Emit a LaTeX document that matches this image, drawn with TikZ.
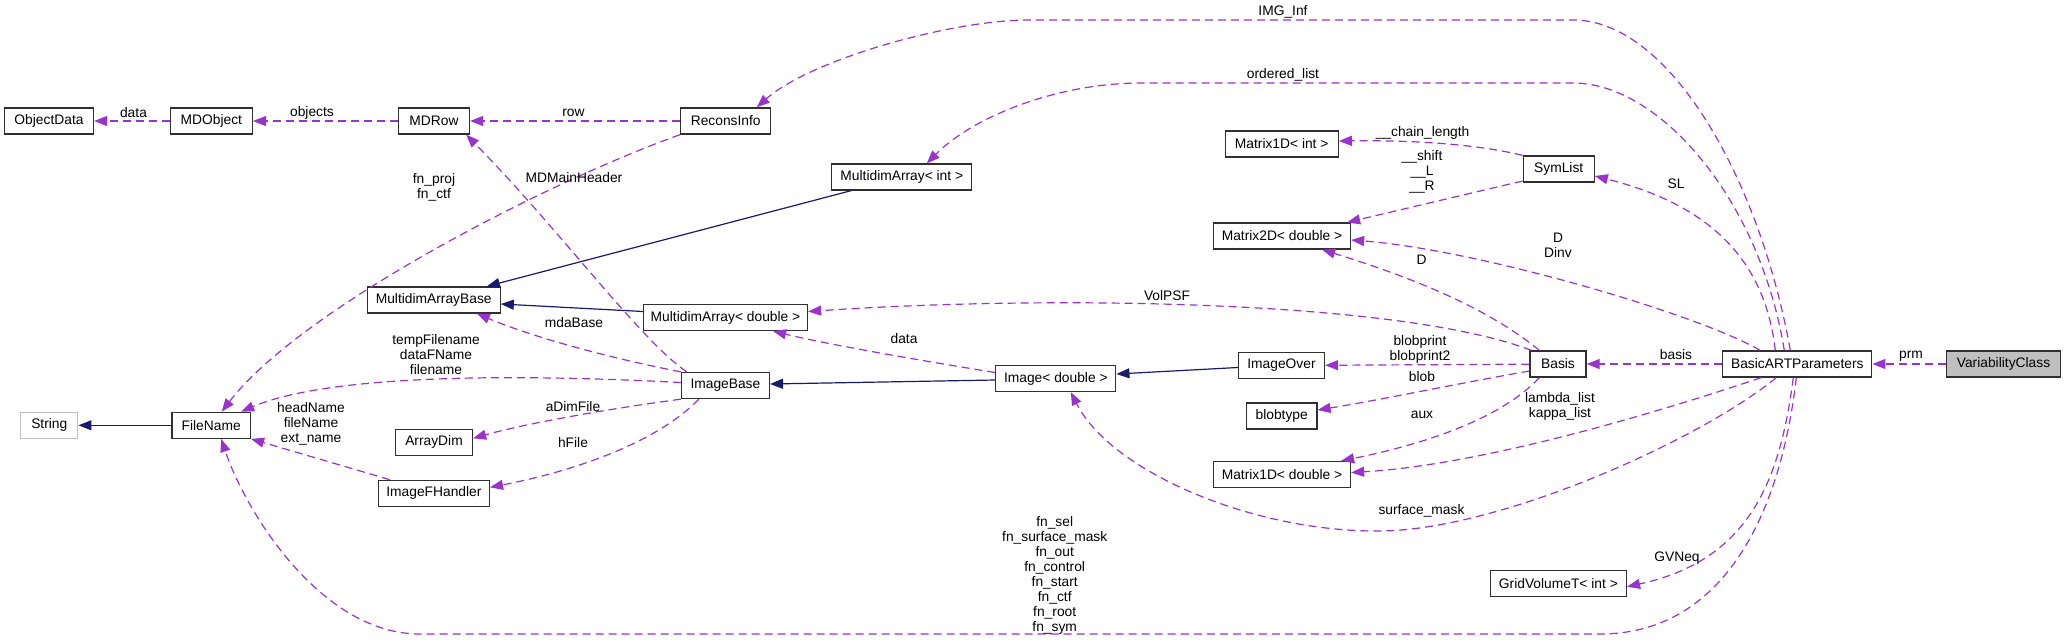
\documentclass[tikz,border=0pt]{standalone}
\usepackage{fontspec}
\setmainfont{Liberation Sans}
\usetikzlibrary{arrows.meta}
\definecolor{memc}{HTML}{9A32CD}
\definecolor{inhc}{HTML}{191970}
\definecolor{grayc}{HTML}{BFBFBF}
\definecolor{boxc}{HTML}{303030}
\tikzset{
  cls/.style={draw=boxc, line width=1.3pt, fill=white, minimum height=26pt, inner sep=0pt,
    font=\fontsize{13.8}{15}\selectfont},
  lbl/.style={font=\fontsize{13.8}{15}\selectfont, align=center, inner sep=0pt},
  memb/.style={draw=memc, line width=1.2pt, dash pattern=on 8pt off 5pt,
    -{Triangle[length=13pt,width=10pt]}},
  inher/.style={draw=inhc, line width=1.2pt, -{Triangle[length=13pt,width=10pt]}},
}
\begin{document}
\begin{tikzpicture}[x=1pt,y=-1pt]
\useasboundingbox (0,0) rectangle (2065,640);
% classes
\node[cls, minimum width=89pt] (objdata) at (49,121) {ObjectData};
\node[cls, minimum width=82pt] (mdobj) at (211.4,121) {MDObject};
\node[cls, minimum width=71pt] (mdrow) at (434,121) {MDRow};
\node[cls, minimum width=90pt] (recons) at (725.7,121) {ReconsInfo};
\node[cls, minimum width=140pt] (mdaint) at (901.8,177) {MultidimArray< int >};
\node[cls, minimum width=113pt] (m1dint) at (1281.7,144) {Matrix1D< int >};
\node[cls, minimum width=71pt] (symlist) at (1558.7,169) {SymList};
\node[cls, minimum width=137pt] (m2d) at (1282,236) {Matrix2D< double >};
\node[cls, minimum width=133pt] (mdabase) at (433.7,300) {MultidimArrayBase};
\node[cls, minimum width=164pt] (mdadbl) at (725.5,317.5) {MultidimArray< double >};
\node[cls, minimum width=57pt, draw=grayc] (string) at (49.3,425.3) {String};
\node[cls, minimum width=78.5pt] (filename) at (211.2,425.3) {FileName};
\node[cls, minimum width=77pt] (arraydim) at (434,442.3) {ArrayDim};
\node[cls, minimum width=111pt] (imgfh) at (433.9,493.3) {ImageFHandler};
\node[cls, minimum width=88pt] (imgbase) at (725.4,385.5) {ImageBase};
\node[cls, minimum width=120pt] (imgdbl) at (1055.8,378.5) {Image< double >};
\node[cls, minimum width=86pt] (imgover) at (1281.5,365.5) {ImageOver};
\node[cls, minimum width=70.5pt] (blobtype) at (1281.7,416) {blobtype};
\node[cls, minimum width=137pt] (m1ddbl) at (1282,474.5) {Matrix1D< double >};
\node[cls, minimum width=136pt] (gridvol) at (1558.4,583.7) {GridVolumeT< int >};
\node[cls, minimum width=56pt] (basis) at (1558,364) {Basis};
\node[cls, minimum width=149pt] (bap) at (1797.3,364) {BasicARTParameters};
\node[cls, minimum width=114pt, fill=grayc] (varclass) at (2003.5,364) {VariabilityClass};
% connectors
\draw[memb] (mdobj) -- (objdata);
\draw[memb] (mdrow) -- (mdobj);
\draw[memb] (recons) -- (mdrow);
\draw[memb] (recons.south west) .. controls (540,185) and (300,310) .. (filename);
\draw[memb] ([xshift=6pt]imgbase.north west) .. controls (640,340) and (560,230) .. ([xshift=-4pt]mdrow.south east);
\draw[inher] ([xshift=20pt]mdaint.south west) -- ([xshift=-14pt]mdabase.north east);
\draw[inher] ([yshift=6pt]mdadbl.west) -- ([yshift=-4pt]mdabase.east);
\draw[memb] (imgbase.north west) .. controls (620,360) and (540,340) .. ([xshift=-24pt]mdabase.south east);
\draw[memb] ([yshift=3pt]imgbase.west) .. controls (480,372) and (320,378) .. ([xshift=-10pt]filename.north east);
\draw[memb] (imgbase.south west) .. controls (600,410) and (520,425) .. ([yshift=4pt]arraydim.east);
\draw[memb] ([xshift=18pt]imgbase.south west) .. controls (660,440) and (580,470) .. ([yshift=6pt]imgfh.east);
\draw[memb] ([xshift=12pt]imgfh.north west) -- (filename.south east);
\draw[inher] (filename) -- (string);
\draw[inher] ([yshift=-1.5pt]imgdbl.west) -- ([yshift=1.5pt]imgbase.east);
\draw[memb] ([yshift=6pt]imgdbl.west) .. controls (930,362) and (830,345) .. ([xshift=-35pt]mdadbl.south east);
\draw[inher] ([yshift=-2pt]imgover.west) -- ([yshift=4.5pt]imgdbl.east);
\draw[memb] ([xshift=2pt]basis.north west) .. controls (1400,300) and (1050,295) .. ([yshift=6pt]mdadbl.east);
\draw[memb] ([xshift=10pt]basis.north west) .. controls (1490,310) and (1420,280) .. ([xshift=-29pt]m2d.south east);
\draw[memb] (basis) -- (imgover);
\draw[memb] ([yshift=-7pt]basis.west) .. controls (1450,385) and (1380,400) .. ([yshift=6pt]blobtype.east);
\draw[memb] ([xshift=10pt]basis.south west) .. controls (1500,420) and (1420,445) .. ([xshift=-10pt]m1ddbl.north east);
\draw[memb] (symlist.north west) .. controls (1480,145) and (1420,140) .. ([yshift=3pt]m1dint.east);
\draw[memb] ([yshift=-12pt]symlist.west) -- ([xshift=-4pt]m2d.north east);
\draw[memb] ([xshift=-7pt]bap.north) .. controls (1760,180) and (1670,20) .. (1573,20) -- (1029,20) .. controls (950,20) and (810,60) .. ([xshift=31pt]recons.north);
\draw[memb] ([xshift=-13pt]bap.north) .. controls (1760,200) and (1660,83) .. (1573,83) -- (1141,83) .. controls (1060,83) and (975,115) .. ([xshift=25pt]mdaint.north);
\draw[memb] ([xshift=-22pt]bap.north) .. controls (1765,260) and (1710,205) .. ([yshift=-7pt]symlist.east);
\draw[memb] ([xshift=38pt]bap.north west) .. controls (1700,315) and (1480,250) .. ([yshift=-4pt]m2d.east);
\draw[memb] (bap) -- (basis);
\draw[memb] ([xshift=39pt]bap.south west) .. controls (1650,415) and (1480,465) .. ([yshift=2pt]m1ddbl.east);
\draw[memb] ([xshift=-21pt]bap.south) .. controls (1700,440) and (1500,530) .. (1380,531) .. controls (1250,532) and (1110,470) .. ([xshift=15pt]imgdbl.south);
\draw[memb] ([xshift=-4pt]bap.south) .. controls (1780,480) and (1750,560) .. ([yshift=-3pt]gridvol.east);
\draw[memb] ([xshift=-1pt]bap.south) .. controls (1780,520) and (1720,634) .. (1600,634) -- (420,634) .. controls (320,634) and (245,510) .. ([xshift=10pt]filename.south);
\draw[memb] (varclass) -- (bap);
% labels
\node[lbl] (l1) at (133.5,112.7) {data};
\node[lbl] (l2) at (312,112.7) {objects};
\node[lbl] (l3) at (573.5,112.7) {row};
\node[lbl] (l4) at (434,187.5) {fn\_proj\\fn\_ctf};
\node[lbl] (l5) at (574,178) {MDMainHeader};
\node[lbl] (l6) at (574,323) {mdaBase};
\node[lbl] (l7) at (436,355) {tempFilename\\dataFName\\filename};
\node[lbl] (l8) at (573,406.7) {aDimFile};
\node[lbl] (l9) at (573,443) {hFile};
\node[lbl] (l10) at (311,423.7) {headName\\fileName\\ext\_name};
\node[lbl] (l11) at (904,339) {data};
\node[lbl] (l12) at (1167,295.5) {VolPSF};
\node[lbl] (l13) at (1421.5,260) {D};
\node[lbl] (l14) at (1420,349.7) {blobprint\\blobprint2};
\node[lbl] (l15) at (1422,376.7) {blob};
\node[lbl] (l16) at (1422,415) {aux};
\node[lbl] (l17) at (1422.6,132.7) {\_\_chain\_length};
\node[lbl] (l18) at (1422,172.3) {\_\_shift\\\_\_L\\\_\_R};
\node[lbl] (l19) at (1283,11.7) {IMG\_Inf};
\node[lbl] (l20) at (1283,75) {ordered\_list};
\node[lbl] (l21) at (1676,184) {SL};
\node[lbl] (l22) at (1558,245) {D\\Dinv};
\node[lbl] (l23) at (1676,355) {basis};
\node[lbl] (l24) at (1560,406.5) {lambda\_list\\kappa\_list};
\node[lbl] (l25) at (1421.5,510.7) {surface\_mask};
\node[lbl] (l26) at (1677,558) {GVNeq};
\node[lbl] (l27) at (1054.7,575) {fn\_sel\\fn\_surface\_mask\\fn\_out\\fn\_control\\fn\_start\\fn\_ctf\\fn\_root\\fn\_sym};
\node[lbl] (l28) at (1911,356) {prm};
\end{tikzpicture}
\end{document}
